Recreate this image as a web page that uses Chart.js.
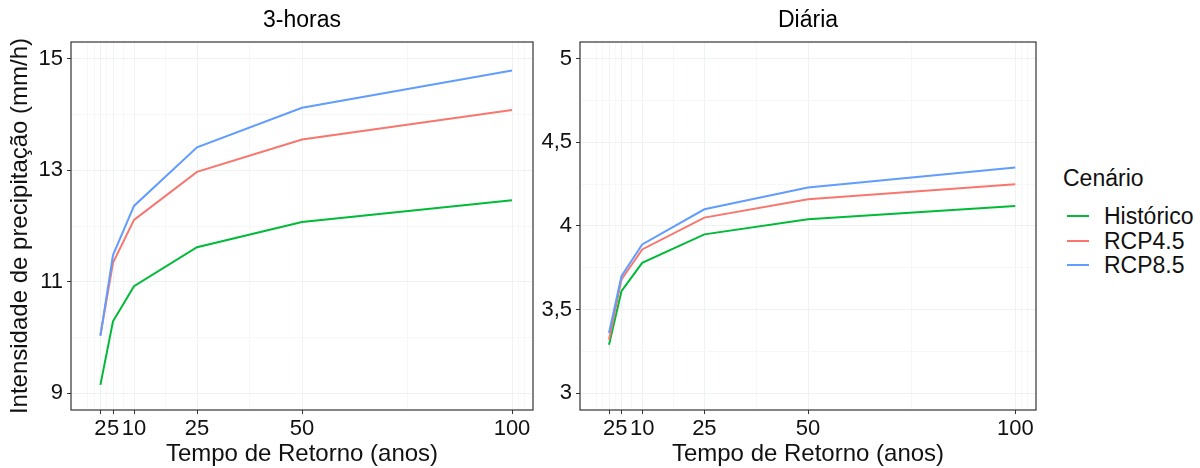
<!DOCTYPE html>
<html>
<head>
<meta charset="utf-8">
<script src="https://cdn.jsdelivr.net/npm/chart.js@4.4.1/dist/chart.umd.min.js"></script>
<style>
  body { margin: 0; background: #fff; font-family: "Liberation Sans", Arial, sans-serif; }
  #wrap { position: relative; width: 1200px; height: 468px; overflow: hidden; }
  #wrap canvas { position: absolute; top: 0; }
  #c3h { left: 0; }
  #cday { left: 510px; }
  #legend { position: absolute; left: 0; top: 0; color: #111; }
  .lg-title { position: absolute; left: 1063px; top: 164px; font-size: 23px; line-height: 28px; white-space: nowrap; }
  .lg-key { position: absolute; left: 1067px; width: 22px; height: 2px; }
  .lg-text { position: absolute; left: 1104px; font-size: 23px; line-height: 28px; white-space: nowrap; }
</style>
</head>
<body>
<div id="wrap">
  <canvas id="c3h" width="540" height="468"></canvas>
  <canvas id="cday" width="540" height="468"></canvas>
  <div id="legend"></div>
</div>
<script>
// return periods (years)
const returnPeriods = [2, 5, 10, 25, 50, 100];

const seriesNames = ['Histórico', 'RCP4.5', 'RCP8.5'];
const seriesColors = ['#00BA38', '#F8766D', '#619CFF'];

// 3-hour intensities (mm/h)
const hist3h = [9.15, 10.29, 10.92, 11.62, 12.07, 12.46];
const rcp45_3h = [10.04, 11.34, 12.11, 12.97, 13.55, 14.08];
const rcp85_3h = [10.03, 11.48, 12.36, 13.41, 14.12, 14.79];

// daily intensities (mm/h)
const histDay = [3.29, 3.61, 3.78, 3.95, 4.04, 4.12];
const rcp45Day = [3.32, 3.68, 3.86, 4.05, 4.16, 4.25];
const rcp85Day = [3.36, 3.70, 3.89, 4.10, 4.23, 4.35];

// axis breaks
const xMajor = [2, 5, 10, 25, 50, 100];
const xMinor = [-1, 0.5, 3.5, 7.5, 17.5, 37.5, 75, 101.5, 103];
const yMajor3h = [9, 11, 13, 15];
const yMinor3h = [10, 12, 14];
const yMajorDay = [3, 3.5, 4, 4.5, 5];
const yMinorDay = [3.25, 3.75, 4.25, 4.75];

const FONT = '"Liberation Sans", Arial, sans-serif';
const TEXT = '#111111';
const AXIS = '#333333';
const GRID_MAJOR = '#eef2f1';
const GRID_MINOR = '#f6f8f8';

const fmt = v => String(v).replace('.', ',');
const sorted = arr => arr.slice().sort((a, b) => a - b);

function panelPlugin(title) {
  return {
    id: 'panelFrame',
    afterDraw(chart) {
      const { ctx, chartArea: a } = chart;
      ctx.save();
      ctx.strokeStyle = AXIS;
      ctx.lineWidth = 1.2;
      ctx.strokeRect(a.left, a.top, a.right - a.left, a.bottom - a.top);
      ctx.font = '23px ' + FONT;
      ctx.fillStyle = '#000';
      ctx.textAlign = 'center';
      ctx.textBaseline = 'middle';
      ctx.fillText(title, (a.left + a.right) / 2, 21);
      ctx.restore();
    }
  };
}

function buildPanel(id, title, series, yMin, yMax, yMajor, yMinor, yWidth, padRight, yTitle) {
  const xTicks = sorted(xMajor.concat(xMinor));
  const yTicks = sorted(yMajor.concat(yMinor));
  const isMaj = (list, c) => c.tick && list.includes(c.tick.value);

  new Chart(document.getElementById(id), {
    type: 'line',
    data: {
      datasets: series.map((vals, i) => ({
        label: seriesNames[i],
        data: returnPeriods.map((x, j) => ({ x: x, y: vals[j] })),
        borderColor: seriesColors[i],
        borderWidth: 2,
        pointRadius: 0,
        tension: 0,
        fill: false,
        order: series.length - 1 - i
      }))
    },
    options: {
      responsive: false,
      animation: false,
      events: [],
      layout: { padding: { left: 0, right: padRight, top: 42, bottom: 0 } },
      plugins: {
        legend: { display: false },
        tooltip: { enabled: false },
        title: { display: false }
      },
      scales: {
        x: {
          type: 'linear',
          min: -5,
          max: 105,
          afterBuildTicks: s => { s.ticks = xTicks.map(v => ({ value: v })); },
          afterFit: s => { s.height = 58; },
          border: { display: false },
          grid: {
            color: c => isMaj(xMajor, c) ? GRID_MAJOR : GRID_MINOR,
            tickColor: c => isMaj(xMajor, c) ? AXIS : 'rgba(0,0,0,0)',
            tickLength: 4,
            lineWidth: 1,
            tickWidth: 1
          },
          ticks: {
            autoSkip: false,
            maxRotation: 0,
            minRotation: 0,
            padding: 2,
            color: TEXT,
            font: { family: FONT, size: 22 },
            callback: v => xMajor.includes(v) ? String(v) : ''
          },
          title: {
            display: true,
            text: 'Tempo de Retorno (anos)',
            color: TEXT,
            font: { family: FONT, size: 24, lineHeight: 1.1 },
            padding: { top: 0, bottom: 0 }
          }
        },
        y: {
          type: 'linear',
          min: yMin,
          max: yMax,
          afterBuildTicks: s => { s.ticks = yTicks.map(v => ({ value: v })); },
          afterFit: s => { s.width = yWidth; },
          border: { display: false },
          grid: {
            color: c => isMaj(yMajor, c) ? GRID_MAJOR : GRID_MINOR,
            tickColor: c => isMaj(yMajor, c) ? AXIS : 'rgba(0,0,0,0)',
            tickLength: 4,
            lineWidth: 1,
            tickWidth: 1
          },
          ticks: {
            autoSkip: false,
            padding: 4,
            color: TEXT,
            font: { family: FONT, size: 22 },
            callback: v => yMajor.includes(v) ? fmt(v) : ''
          },
          title: {
            display: !!yTitle,
            text: yTitle || '',
            color: TEXT,
            font: { family: FONT, size: 24 },
            padding: { top: 6, bottom: 0 }
          }
        }
      }
    },
    plugins: [panelPlugin(title)]
  });
}

buildPanel('c3h', '3-horas', [hist3h, rcp45_3h, rcp85_3h], 8.7, 15.3,
  yMajor3h, yMinor3h, 71, 7, 'Intensidade de precipitação (mm/h)');
buildPanel('cday', 'Diária', [histDay, rcp45Day, rcp85Day], 2.9, 5.1,
  yMajorDay, yMinorDay, 70, 14, null);

// legend
const legend = document.getElementById('legend');
const lgTitle = document.createElement('div');
lgTitle.className = 'lg-title';
lgTitle.textContent = 'Cenário';
legend.appendChild(lgTitle);
seriesNames.forEach((name, i) => {
  const cy = 216 + i * 24.5;
  const key = document.createElement('div');
  key.className = 'lg-key';
  key.style.top = (cy - 1) + 'px';
  key.style.background = seriesColors[i];
  legend.appendChild(key);
  const txt = document.createElement('div');
  txt.className = 'lg-text';
  txt.style.top = (cy - 14) + 'px';
  txt.textContent = name;
  legend.appendChild(txt);
});
</script>
</body>
</html>
